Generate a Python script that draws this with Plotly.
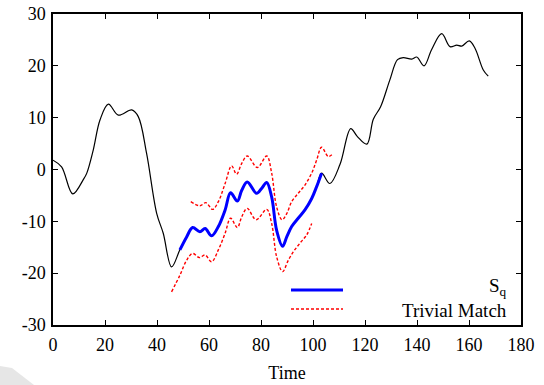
import plotly.graph_objects as go

# Full time series (black)
series_t = [0, 3.3, 7.6, 11.7, 13, 15.5, 18.1, 21.3, 25.1, 30.3, 32.8, 36, 39.9, 42.4, 45.6, 48.8,
            51.4, 53.7, 56.5, 58.5, 61, 63.6, 66.2, 68.3, 70.9, 72.6, 74.7, 78.3, 80.3, 82.2, 84.1, 86,
            88.3, 89.9, 91.8, 94.3, 96.9, 99.5, 101.4, 103.3,
            106.5, 110.4, 114.5, 117, 120.7, 123.2, 126, 129.5, 132.5, 134.7, 138, 139.9, 142.7,
            145.6, 149.5, 152.7, 155.3, 157.2, 160.1, 162.3, 165.5, 167.4]
series_v = [1.8, 0.5, -4.7, -1.9, -0.7, 3.8, 9.6, 12.6, 10.5, 11.5, 10.2, 3.1, -8.5, -12.3, -18.8, -15.5,
            -13, -11.2, -12, -11.4, -12.8, -11, -7.8, -4.5, -6.1, -4, -2.4, -4.6, -3.6, -2.5, -5.3, -11.7,
            -14.8, -13, -11, -9.4, -7.8, -5.6, -3.3, -0.7,
            -2.7, 1.0, 7.9, 6.4, 4.9, 9.7, 12.1, 17.2, 21.2, 21.6, 21.3, 21.7, 20,
            23.1, 26.2, 23.7, 24, 23.8, 24.8, 23.4, 19.2, 18]

# Query subsequence S_q (blue)
sq_t = [48.8, 51.4, 53.7, 56.5, 58.5, 61, 63.6, 66.2, 68.3, 70.9, 72.6, 74.7, 78.3, 80.3, 82.2, 84.1, 86,
        88.3, 89.9, 91.8, 94.3, 96.9, 99.5, 101.4, 103.3]
sq_v = [-15.5, -13, -11.2, -12, -11.4, -12.8, -11, -7.8, -4.5, -6.1, -4, -2.4, -4.6, -3.6, -2.5, -5.3, -11.7,
        -14.8, -13, -11, -9.4, -7.8, -5.6, -3.3, -0.7]

# Trivial match envelope (red dashed)
upper_t = [53, 56.5, 58.8, 61.4, 63.6, 66.2, 68.7, 70.6, 72.6, 74.7, 78.6, 82.2, 84.1, 86, 88.1, 89.9,
           91.8, 94.3, 96.9, 99.5, 101.4, 103.3, 105.9, 107.6]
upper_v = [-6.2, -7, -6.4, -7.7, -6.2, -2.7, 0.7, -0.9, 1.2, 2.6, 0.4, 2.6, -0.7, -7.2, -9.7, -8.5,
           -6.2, -4.6, -3, -0.7, 1.8, 4.3, 2.5, 3]
lower_t = [45.6, 48.8, 51.4, 53.7, 56.3, 58.5, 61, 63.6, 66.2, 68.3, 70.9, 72.6, 74.7, 78.1, 82.2, 84.1,
           86, 88.3, 90.5, 92.4, 95, 97.6, 99.5]
lower_v = [-23.6, -20.4, -17.5, -16.2, -17, -16.5, -17.8, -15.5, -12.3, -9.4, -11.2, -9.1, -7.5, -9.7, -7.7,
           -10.4, -16.8, -19.7, -17.5, -15.9, -14.2, -12.6, -10.4]

x_ticks = list(range(0, 181, 20))
y_ticks = list(range(-30, 31, 10))

RED = "#ff0000"
BLUE = "#0000ff"
FONT = "Liberation Serif"

fig = go.Figure()
fig.add_trace(go.Scatter(x=series_t, y=series_v, mode="lines", line=dict(color="black", width=1.2, shape="spline"),
                         showlegend=False))
fig.add_trace(go.Scatter(x=upper_t, y=upper_v, mode="lines",
                         line=dict(color=RED, width=1.4, dash="3px,2px", shape="spline"), showlegend=False))
fig.add_trace(go.Scatter(x=lower_t, y=lower_v, mode="lines",
                         line=dict(color=RED, width=1.4, dash="3px,2px", shape="spline"), showlegend=False))
fig.add_trace(go.Scatter(x=sq_t, y=sq_v, mode="lines", line=dict(color=BLUE, width=3, shape="spline"),
                         showlegend=False))

# Legend drawn manually (gnuplot style)
L, R, T, B = 53, 521, 14, 325
W, H = R - L, B - T
def px(x):
    return (x - L) / W
def py(y):
    return (B - y) / H

fig.add_shape(type="line", xref="paper", yref="paper", x0=px(291), x1=px(343), y0=py(290), y1=py(290),
              line=dict(color=BLUE, width=3))
fig.add_shape(type="line", xref="paper", yref="paper", x0=px(291), x1=px(343), y0=py(309), y1=py(309),
              line=dict(color=RED, width=1.4, dash="3px,2px"))
fig.add_annotation(xref="paper", yref="paper", x=px(509), y=py(287), text="S<sub>q</sub>", showarrow=False,
                   xanchor="right", yanchor="middle", font=dict(family=FONT, size=19, color="black"))
fig.add_annotation(xref="paper", yref="paper", x=px(509), y=py(310), text="Trivial Match", showarrow=False,
                   xanchor="right", yanchor="middle", font=dict(family=FONT, size=19, color="black"))

# faint gray wedge at the bottom-left corner of the page
wedge = [(0, 366), (12, 368), (34, 385), (0, 385)]
path = "M " + " L ".join(f"{px(a):.4f},{py(b):.4f}" for a, b in wedge) + " Z"
fig.add_shape(type="path", xref="paper", yref="paper", path=path, fillcolor="#e6e6e6",
              line=dict(width=0), layer="below")

axis_common = dict(showgrid=False, zeroline=False, showline=True, linecolor="black", linewidth=1.5,
                   mirror="allticks", ticks="inside", ticklen=5, tickwidth=1.2, tickcolor="black",
                   automargin=False, tickfont=dict(family=FONT, size=18, color="black"))
fig.update_xaxes(range=[0, 180], tickvals=x_ticks, ticktext=[str(v) for v in x_ticks], ticklabelstandoff=3,
                 title=dict(text="Time", font=dict(family=FONT, size=18, color="black"), standoff=12),
                 **axis_common)
fig.update_yaxes(range=[-30, 30], tickvals=y_ticks, ticktext=[str(v) for v in y_ticks], ticklabelstandoff=2,
                 **axis_common)

fig.update_layout(width=544, height=385, margin=dict(l=L, r=544 - R, t=T, b=385 - B),
                  plot_bgcolor="white", paper_bgcolor="white", showlegend=False,
                  font=dict(family=FONT, size=18, color="black"))

fig.write_html("out.html")
